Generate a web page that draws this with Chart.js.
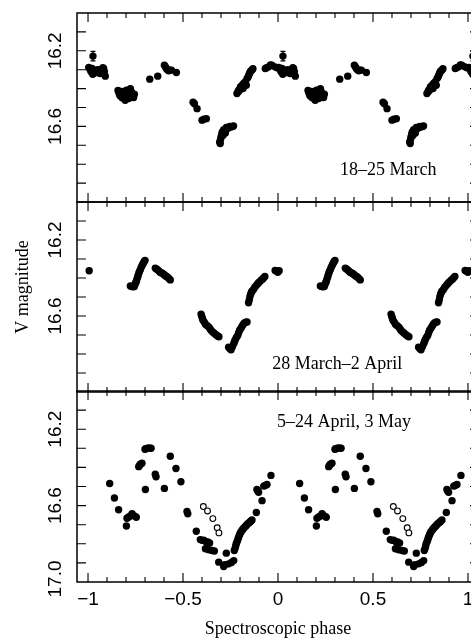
<!DOCTYPE html>
<html>
<head>
<meta charset="utf-8">
<title>V magnitude vs spectroscopic phase</title>
<script src="https://cdn.jsdelivr.net/npm/chart.js@4.4.0/dist/chart.umd.min.js"></script>
<style>
    html, body { margin: 0; padding: 0; background: #fff; overflow: hidden; }
    #wrap { position: relative; width: 471px; height: 642px; overflow: hidden; }
    canvas { position: absolute; left: 0; }
</style>
</head>
<body>
<div id="wrap">
    <canvas id="march" width="490" height="210" style="top:0px"></canvas>
    <canvas id="april" width="490" height="206" style="top:194px"></canvas>
    <canvas id="may" width="490" height="259" style="top:383px"></canvas>
</div>
<script>
// Phase-folded light curves, one cycle per panel (phase 0..1), plotted twice

const X_MIN = -1.058;
const X_MAX = 1.058;
const xTickValues = [-1, -0.5, 0, 0.5, 1];
const yTickLabels = [16.2, 16.6];
const yTickLabelsBottom = [16.2, 16.6, 17.0];

// 18-25 March
const marchPhase = [
    0.004, 0.012, 0.016, 0.021, 0.025, 0.030, 0.035, 0.039, 0.044, 0.047, 0.052, 0.056, 0.060, 0.065, 0.070, 0.074, 0.078, 0.082, 0.086, 0.091,
    0.026,
    0.158, 0.163, 0.167, 0.172, 0.176, 0.180, 0.185, 0.188, 0.192, 0.196, 0.200, 0.202, 0.205, 0.210, 0.214, 0.218, 0.223, 0.226, 0.232, 0.236, 0.240, 0.244,
    0.325, 0.367,
    0.402, 0.408, 0.412, 0.418, 0.425, 0.432, 0.439, 0.465,
    0.553, 0.560, 0.574, 0.600, 0.610, 0.623,
    0.693, 0.696, 0.698, 0.700, 0.704, 0.707, 0.711, 0.714, 0.718, 0.723, 0.728, 0.733, 0.740, 0.746, 0.753, 0.760, 0.766,
    0.784, 0.789, 0.793, 0.797, 0.802, 0.806, 0.811, 0.816, 0.819, 0.824, 0.828, 0.833, 0.837, 0.842, 0.846, 0.850, 0.854, 0.858, 0.863, 0.868,
    0.933, 0.940, 0.951, 0.960, 0.968, 0.984, 0.995
];
const marchMag = [
    16.288, 16.300, 16.311, 16.294, 16.324, 16.318, 16.305, 16.302, 16.315, 16.311, 16.300, 16.306, 16.318, 16.320, 16.305, 16.300, 16.290, 16.294, 16.310, 16.334,
    16.228,
    16.410, 16.425, 16.435, 16.440, 16.415, 16.448, 16.430, 16.417, 16.455, 16.462, 16.440, 16.408, 16.435, 16.450, 16.453, 16.420, 16.400, 16.412, 16.426, 16.440, 16.447, 16.430,
    16.350, 16.334,
    16.276, 16.285, 16.294, 16.300, 16.306, 16.302, 16.302, 16.315,
    16.472, 16.480, 16.506, 16.567, 16.562, 16.559,
    16.682, 16.691, 16.668, 16.656, 16.640, 16.629, 16.647, 16.617, 16.625, 16.635, 16.606, 16.612, 16.606, 16.600, 16.603, 16.600, 16.598,
    16.426, 16.418, 16.408, 16.410, 16.391, 16.395, 16.382, 16.400, 16.373, 16.370, 16.364, 16.382, 16.347, 16.340, 16.329, 16.320, 16.311, 16.305, 16.302, 16.295,
    16.294, 16.290, 16.285, 16.275, 16.276, 16.285, 16.290
];
const marchErrPhase = [0.026];
const marchErrMag = [16.228];
const marchErrSize = [0.025];

// 28 March - 2 April
const aprilPhase = [
    0.985, 0.993, 0.999, 0.006,
    0.223, 0.230, 0.237, 0.244, 0.248, 0.251, 0.254, 0.257, 0.261, 0.264, 0.268, 0.271, 0.275, 0.279, 0.284, 0.288, 0.293, 0.297, 0.300,
    0.354, 0.360, 0.367, 0.374, 0.381, 0.388, 0.395, 0.401, 0.407, 0.413, 0.419, 0.426, 0.433,
    0.595, 0.598, 0.602, 0.605, 0.612, 0.618, 0.626, 0.635, 0.641, 0.647, 0.654, 0.661, 0.668, 0.675, 0.682, 0.689,
    0.740, 0.747, 0.753, 0.760, 0.767, 0.771, 0.775, 0.781, 0.788, 0.793, 0.798, 0.805, 0.811, 0.817, 0.823, 0.830, 0.837,
    0.845, 0.849, 0.852, 0.856, 0.860, 0.864, 0.871, 0.878, 0.885, 0.892, 0.898, 0.904, 0.911, 0.918, 0.924, 0.931
];
const aprilMag = [
    16.360, 16.365, 16.370, 16.362,
    16.442, 16.445, 16.446, 16.445, 16.432, 16.425, 16.419, 16.408, 16.396, 16.385, 16.374, 16.365, 16.357, 16.346, 16.335, 16.327, 16.318, 16.311, 16.307,
    16.348, 16.352, 16.357, 16.364, 16.371, 16.374, 16.378, 16.383, 16.388, 16.392, 16.396, 16.403, 16.410,
    16.590, 16.600, 16.612, 16.622, 16.632, 16.643, 16.650, 16.657, 16.666, 16.675, 16.682, 16.688, 16.694, 16.700, 16.705, 16.709,
    16.764, 16.772, 16.778, 16.762, 16.746, 16.735, 16.725, 16.713, 16.702, 16.688, 16.675, 16.664, 16.654, 16.645, 16.636, 16.633, 16.631,
    16.530, 16.515, 16.498, 16.485, 16.475, 16.468, 16.460, 16.449, 16.440, 16.431, 16.425, 16.419, 16.412, 16.406, 16.400, 16.392
];

// 5-24 April, 3 May (filled points)
const mayPhase = [
    0.114, 0.139, 0.161, 0.202, 0.205, 0.214, 0.223, 0.232, 0.246, 0.254,
    0.267, 0.271, 0.275, 0.284, 0.302, 0.300, 0.312, 0.322, 0.332,
    0.354, 0.358, 0.402, 0.433, 0.463, 0.489, 0.521, 0.525, 0.570,
    0.591, 0.600, 0.609, 0.618, 0.622, 0.630, 0.635, 0.640, 0.653, 0.665,
    0.688, 0.714, 0.720, 0.728, 0.740, 0.755, 0.767,
    0.770, 0.774, 0.777, 0.780, 0.784, 0.788, 0.791, 0.795, 0.798, 0.802, 0.805, 0.810, 0.814, 0.818, 0.823, 0.828, 0.833, 0.838, 0.844, 0.849, 0.854, 0.858, 0.863,
    0.886, 0.889, 0.893, 0.898, 0.916, 0.925, 0.933, 0.942, 0.963
];
const mayMag = [
    16.484, 16.560, 16.622, 16.707, 16.666, 16.660, 16.654, 16.643, 16.655, 16.661,
    16.396, 16.390, 16.383, 16.378, 16.516, 16.305, 16.300, 16.298, 16.300,
    16.436, 16.449, 16.510, 16.342, 16.406, 16.475, 16.631, 16.643, 16.734,
    16.778, 16.782, 16.781, 16.826, 16.790, 16.790, 16.831, 16.796, 16.835, 16.838,
    16.896, 16.919, 16.910, 16.849, 16.905, 16.898, 16.888,
    16.835, 16.825, 16.813, 16.800, 16.790, 16.780, 16.769, 16.760, 16.751, 16.744, 16.737, 16.731, 16.725, 16.720, 16.714, 16.709, 16.704, 16.698, 16.693, 16.688, 16.684, 16.680, 16.675,
    16.636, 16.516, 16.522, 16.530, 16.574, 16.498, 16.495, 16.489, 16.442
];
// open circles
const mayOpenPhase = [0.607, 0.629, 0.657, 0.680, 0.689];
const mayOpenMag = [16.605, 16.628, 16.668, 16.716, 16.743];
const mayErrPhase = [0.302];
const mayErrMag = [16.303];
const mayErrSize = [0.014];

// place each point in every cycle that falls inside the axis
function fold(phases, mags) {
    const pts = [];
    [-1, 0, 1].forEach(k => {
        phases.forEach((p, i) => {
            const x = p + k;
            if (x >= X_MIN && x <= X_MAX) pts.push({ x: x, y: mags[i] });
        });
    });
    return pts;
}

function fmtPhase(v) {
    if (v === 0) return '0';
    return v < 0 ? '\u2212' + Math.abs(v) : String(v);
}

// frame with inward ticks, rotated y labels, annotation and error bars
const framePlugin = {
    id: 'frame',
    afterDatasetsDraw(chart, args, opts) {
        const ctx = chart.ctx;
        const a = chart.chartArea;
        const xs = chart.scales.x;
        const ys = chart.scales.y;
        ctx.save();
        ctx.strokeStyle = '#000';
        ctx.fillStyle = '#000';

        // error bars
        (opts.errPhase || []).forEach((p, i) => {
            [-1, 0, 1].forEach(k => {
                const xv = p + k;
                if (xv < X_MIN || xv > X_MAX) return;
                const px = xs.getPixelForValue(xv);
                const y1 = ys.getPixelForValue(opts.errMag[i] - opts.errSize[i]);
                const y2 = ys.getPixelForValue(opts.errMag[i] + opts.errSize[i]);
                ctx.lineWidth = 1.3;
                ctx.beginPath();
                ctx.moveTo(px, y1); ctx.lineTo(px, y2);
                ctx.moveTo(px - 2.5, y1); ctx.lineTo(px + 2.5, y1);
                ctx.moveTo(px - 2.5, y2); ctx.lineTo(px + 2.5, y2);
                ctx.stroke();
            });
        });

        ctx.lineWidth = 1.5;
        ctx.strokeRect(a.left, a.top, a.right - a.left, a.bottom - a.top);

        ctx.lineWidth = 1.1;
        ctx.beginPath();
        for (let i = -10; i <= 10; i++) {
            const px = xs.getPixelForValue(i / 10);
            const len = (i % 5 === 0) ? 9 : 5;
            ctx.moveTo(px, a.top); ctx.lineTo(px, a.top + len);
            ctx.moveTo(px, a.bottom); ctx.lineTo(px, a.bottom - len);
        }
        for (let j = 1; j <= 9; j++) {
            const py = ys.getPixelForValue(16 + j / 10);
            ctx.moveTo(a.left, py); ctx.lineTo(a.left + 9, py);
            ctx.moveTo(a.right, py); ctx.lineTo(a.right - 9, py);
        }
        ctx.stroke();

        // y tick labels, reading upwards
        ctx.font = '19px "Liberation Sans", Arial, sans-serif';
        ctx.textAlign = 'center';
        ctx.textBaseline = 'middle';
        (opts.yLabels || []).forEach(v => {
            const py = ys.getPixelForValue(v);
            ctx.save();
            ctx.translate(56, v >= 17 ? py - 3 : py);
            ctx.rotate(-Math.PI / 2);
            ctx.fillText(v.toFixed(1), 0, 0);
            ctx.restore();
        });

        // panel note
        ctx.font = '18px "Liberation Serif", "Times New Roman", serif';
        ctx.textAlign = 'left';
        ctx.textBaseline = 'alphabetic';
        ctx.fillText(opts.note, xs.getPixelForValue(opts.notePhase), ys.getPixelForValue(opts.noteMag));

        if (opts.yTitle) {
            ctx.save();
            ctx.translate(23, (a.top + a.bottom) / 2 - 10);
            ctx.rotate(-Math.PI / 2);
            ctx.textAlign = 'center';
            ctx.textBaseline = 'middle';
            ctx.fillText(opts.yTitle, 0, 0);
            ctx.restore();
        }
        ctx.restore();
    }
};

function filledSet(points) {
    return {
        data: points,
        pointRadius: 3.7,
        pointBorderWidth: 0,
        pointBackgroundColor: '#000',
        showLine: false
    };
}

function openSet(points) {
    return {
        data: points,
        pointRadius: 2.9,
        pointBorderWidth: 1.1,
        pointBorderColor: '#000',
        pointBackgroundColor: '#fff',
        showLine: false
    };
}

function makePanel(id, datasets, frameOpts, padding, bottom) {
    const xScale = {
        type: 'linear',
        min: X_MIN,
        max: X_MAX,
        display: bottom,
        grid: { display: false, drawTicks: false },
        border: { display: false },
        afterBuildTicks: s => { s.ticks = xTickValues.map(v => ({ value: v })); },
        ticks: {
            autoSkip: false,
            maxRotation: 0,
            padding: 6,
            color: '#000',
            font: { family: '"Liberation Sans", Arial, sans-serif', size: 19 },
            callback: v => fmtPhase(v)
        },
        title: {
            display: bottom,
            text: 'Spectroscopic phase',
            color: '#000',
            font: { family: '"Liberation Serif", "Times New Roman", serif', size: 18 },
            padding: { top: 4, bottom: 2 }
        }
    };
    if (bottom) xScale.afterFit = s => { s.height = 60; };

    return new Chart(document.getElementById(id), {
        type: 'scatter',
        data: { datasets: datasets },
        options: {
            responsive: false,
            animation: false,
            events: [],
            layout: { padding: padding },
            plugins: {
                legend: { display: false },
                tooltip: { enabled: false },
                frame: frameOpts
            },
            scales: {
                x: xScale,
                y: {
                    type: 'linear',
                    min: 16.0,
                    max: 17.0,
                    reverse: true,
                    grid: { display: false, drawTicks: false },
                    border: { display: false },
                    ticks: { display: false },
                    afterFit: s => { s.width = 77; }
                }
            }
        },
        plugins: [framePlugin]
    });
}

makePanel('march', [filledSet(fold(marchPhase, marchMag))], {
    yLabels: yTickLabels,
    note: '18\u201325 March', notePhase: 0.326, noteMag: 16.857,
    errPhase: marchErrPhase, errMag: marchErrMag, errSize: marchErrSize
}, { left: 0, right: 11, top: 13, bottom: 8 }, false);

makePanel('april', [filledSet(fold(aprilPhase, aprilMag))], {
    yLabels: yTickLabels,
    note: '28 March\u20132 April', notePhase: -0.03, noteMag: 16.879,
    yTitle: 'V magnitude'
}, { left: 0, right: 11, top: 8, bottom: 8 }, false);

makePanel('may', [filledSet(fold(mayPhase, mayMag)), openSet(fold(mayOpenPhase, mayOpenMag))], {
    yLabels: yTickLabelsBottom,
    note: '5\u201324 April, 3 May', notePhase: -0.005, noteMag: 16.19,
    errPhase: mayErrPhase, errMag: mayErrMag, errSize: mayErrSize
}, { left: 0, right: 11, top: 8, bottom: 0 }, true);
</script>
</body>
</html>
